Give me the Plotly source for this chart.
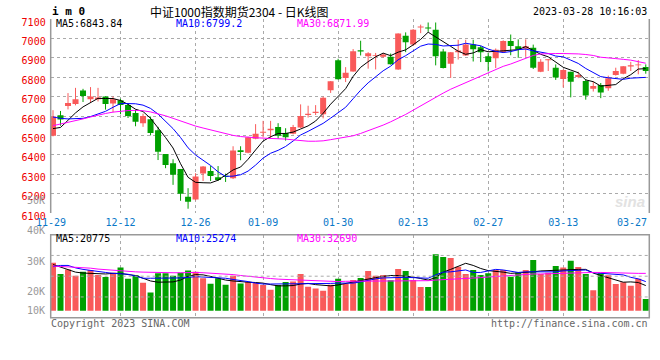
import plotly.graph_objects as go

# ---------------- data ----------------
dates = ["11-29", "11-30", "12-01", "12-02", "12-05", "12-06", "12-07", "12-08", "12-09", "12-12",
         "12-13", "12-14", "12-15", "12-16", "12-19", "12-20", "12-21", "12-22", "12-23", "12-26",
         "12-27", "12-28", "12-29", "12-30", "01-03", "01-04", "01-05", "01-06", "01-09", "01-10",
         "01-11", "01-12", "01-13", "01-16", "01-17", "01-18", "01-19", "01-20", "01-30", "01-31",
         "02-01", "02-02", "02-03", "02-06", "02-07", "02-08", "02-09", "02-10", "02-13", "02-14",
         "02-15", "02-16", "02-17", "02-20", "02-21", "02-22", "02-23", "02-24", "02-27", "02-28",
         "03-01", "03-02", "03-03", "03-06", "03-07", "03-08", "03-09", "03-10", "03-13", "03-14",
         "03-15", "03-16", "03-17", "03-20", "03-21", "03-22", "03-23", "03-24", "03-27", "03-28"]

tick_labels = ["12-12", "12-26", "01-09", "01-30", "02-13", "02-27", "03-13"]
first_label = "11-29"
edge_label = "03-27"

opens = [6498, 6604, 6651, 6662, 6732, 6686, 6686, 6701, 6664, 6681,
         6657, 6616, 6563, 6583, 6527, 6404, 6356, 6327, 6184, 6169,
         6304, 6316, 6284, 6289, 6279, 6423, 6410, 6483, 6514, 6526,
         6543, 6512, 6509, 6541, 6605, 6616, 6609, 6733, 6888, 6796,
         6830, 6939, 6908, 6910, 6906, 6905, 6840, 7014, 6969, 7056,
         7054, 7044, 6932, 6869, 6929, 6912, 6969, 6954, 6908, 6898,
         6930, 6986, 6959, 6947, 6952, 6828, 6888, 6849, 6791, 6828,
         6801, 6781, 6741, 6760, 6743, 6811, 6818, 6855, 6861, 6852]

closes = [6598, 6582, 6667, 6686, 6703, 6701, 6696, 6662, 6686, 6657,
          6600, 6570, 6600, 6512, 6416, 6348, 6297, 6199, 6158, 6288,
          6340, 6291, 6270, 6287, 6422, 6415, 6491, 6508, 6517, 6534,
          6498, 6491, 6543, 6600, 6612, 6622, 6694, 6779, 6789, 6823,
          6934, 6932, 6923, 6915, 6917, 6867, 7025, 6980, 7044, 7060,
          7051, 6908, 6847, 6929, 6937, 6969, 6944, 6929, 6878, 6942,
          6986, 6961, 6944, 6959, 6849, 6879, 6893, 6798, 6837, 6777,
          6811, 6706, 6755, 6721, 6794, 6832, 6857, 6862, 6866, 6832]

highs = [6630, 6626, 6718, 6745, 6740, 6749, 6745, 6701, 6701, 6689,
         6665, 6633, 6612, 6597, 6544, 6404, 6377, 6327, 6228, 6305,
         6342, 6342, 6342, 6303, 6444, 6444, 6493, 6558, 6575, 6575,
         6563, 6537, 6554, 6660, 6653, 6656, 6700, 6780, 6895, 6852,
         6945, 6988, 6929, 6925, 6925, 6922, 7026, 7031, 7048, 7071,
         7082, 7082, 6946, 6929, 6993, 6993, 6993, 6962, 6925, 6948,
         6990, 7020, 6995, 6995, 6968, 6893, 6893, 6866, 6840, 6828,
         6828, 6790, 6777, 6770, 6808, 6849, 6857, 6879, 6888, 6866]

lows = [6495, 6550, 6634, 6655, 6672, 6670, 6675, 6633, 6619, 6609,
        6590, 6547, 6544, 6500, 6373, 6331, 6245, 6163, 6122, 6165,
        6265, 6265, 6265, 6260, 6275, 6372, 6408, 6480, 6490, 6486,
        6483, 6473, 6505, 6538, 6592, 6605, 6588, 6719, 6788, 6775,
        6828, 6912, 6844, 6840, 6900, 6865, 6838, 6929, 6962, 7027,
        7034, 6861, 6845, 6796, 6891, 6910, 6881, 6878, 6830, 6847,
        6925, 6913, 6900, 6905, 6842, 6826, 6832, 6786, 6747, 6696,
        6795, 6684, 6726, 6692, 6730, 6808, 6815, 6832, 6815, 6818]

ma5 = [6535, 6541, 6578, 6616, 6647, 6668, 6691, 6690, 6690, 6680,
       6660, 6635, 6623, 6588, 6540, 6489, 6435, 6354, 6284, 6258,
       6256, 6255, 6269, 6295, 6322, 6337, 6377, 6425, 6471, 6493,
       6510, 6510, 6517, 6533, 6549, 6574, 6614, 6661, 6699, 6741,
       6804, 6851, 6880, 6905, 6924, 6911, 6929, 6941, 6967, 6995,
       7032, 7009, 6982, 6959, 6934, 6918, 6925, 6942, 6931, 6932,
       6936, 6939, 6942, 6958, 6940, 6918, 6905, 6876, 6851, 6837,
       6823, 6786, 6777, 6754, 6757, 6762, 6792, 6813, 6842, 6844]

ma10 = [6595, 6588, 6585, 6585, 6588, 6597, 6610, 6624, 6645, 6664,
        6664, 6663, 6656, 6639, 6610, 6575, 6535, 6489, 6436, 6399,
        6373, 6345, 6312, 6289, 6290, 6297, 6316, 6347, 6383, 6408,
        6423, 6443, 6471, 6502, 6521, 6542, 6562, 6589, 6616, 6645,
        6689, 6733, 6771, 6802, 6833, 6857, 6890, 6911, 6936, 6960,
        6971, 6969, 6961, 6963, 6965, 6975, 6967, 6962, 6945, 6933,
        6927, 6932, 6942, 6945, 6936, 6927, 6922, 6909, 6905, 6888,
        6871, 6845, 6826, 6803, 6797, 6792, 6789, 6795, 6798, 6799]

ma30 = [6550, 6558, 6566, 6575, 6585, 6595, 6605, 6613, 6620, 6625,
        6628, 6629, 6627, 6621, 6612, 6601, 6588, 6574, 6560, 6548,
        6538, 6528, 6518, 6508, 6500, 6494, 6490, 6488, 6486, 6485,
        6484, 6481, 6477, 6473, 6470, 6470, 6472, 6478, 6485, 6492,
        6498, 6510, 6523, 6537, 6553, 6570, 6588, 6608, 6630, 6652,
        6675, 6700, 6718, 6738, 6755, 6770, 6786, 6802, 6820, 6838,
        6856, 6868, 6882, 6897, 6912, 6920, 6922, 6922, 6922, 6922,
        6920, 6917, 6912, 6903, 6898, 6896, 6892, 6888, 6880, 6872]

volume = [28300, 24600, 26100, 24000, 25300, 25900, 24300, 23600, 25000, 26700,
          23000, 24300, 21700, 18500, 24800, 24800, 24000, 25000, 25700, 25300,
          23200, 21400, 23200, 21100, 24000, 21500, 22000, 21600, 21000, 19400,
          21000, 22000, 22100, 24600, 20400, 19800, 19100, 21100, 23000, 21300,
          22600, 23300, 25600, 24000, 24300, 22500, 26200, 25600, 22600, 20300,
          20300, 31100, 30200, 29800, 27000, 24600, 25900, 24300, 24800, 25900,
          25900, 23700, 25100, 25900, 29200, 24600, 25000, 27200, 26700, 28900,
          26900, 24600, 19300, 24800, 24200, 21300, 21900, 20700, 23000, 16400]

vol_ma5 = [27700, 26900, 26100, 25200, 24900, 24800, 24600, 24600, 24800, 24800,
           24400, 24100, 23200, 22300, 21900, 21900, 22000, 22600, 23800, 24400,
           24300, 23800, 23100, 22600, 22300, 22000, 21900, 21800, 21600, 21100,
           20700, 20700, 20800, 21300, 21500, 21100, 20800, 20700, 21000, 21500,
           22100, 22600, 23000, 23400, 23800, 24100, 24100, 23900, 23600, 23100,
           22600, 23400, 25200, 26100, 27200, 28100, 27400, 26400, 25700, 25500,
           25200, 24800, 24900, 25100, 25300, 25600, 25700, 26000, 26100, 26100,
           26100, 26100, 24900, 24100, 23300, 22500, 21900, 22000, 21800, 20800]

vol_ma10 = [27000, 27400, 27400, 26600, 26100, 25700, 25300, 25100, 24800, 24700,
            24500, 23900, 23200, 23200, 23200, 23200, 23200, 23300, 23500, 23700,
            23600, 23500, 23400, 23200, 22800, 22500, 22100, 21600, 21300, 21300,
            21300, 21300, 21400, 21500, 21500, 21400, 21500, 21500, 21600, 21600,
            21600, 22000, 22600, 23000, 23300, 23400, 23500, 23500, 23400, 23300,
            23200, 24300, 25200, 25300, 25700, 25900, 25100, 25100, 25600, 26100,
            25900, 25400, 25100, 25300, 25300, 25300, 25300, 25300, 25600, 25700,
            25900, 25900, 25000, 24800, 24600, 24400, 24300, 23500, 23000, 22100]

vol_ma30 = [27200, 27100, 27000, 26900, 26700, 26500, 26200, 26000, 25700, 25600,
            25400, 25300, 25200, 25100, 25000, 25000, 25000, 25000, 25100, 25100,
            25000, 24900, 24800, 24700, 24400, 24100, 23800, 23500, 23300, 23100,
            22900, 22800, 22600, 22500, 22300, 22200, 22100, 22100, 22100, 22200,
            22200, 22300, 22300, 22300, 22400, 22400, 22400, 22400, 22400, 22400,
            22400, 22600, 22700, 22900, 23000, 23000, 23200, 23400, 23600, 23800,
            24000, 24200, 24400, 24500, 24600, 24600, 24700, 24800, 24900, 24900,
            25000, 25100, 25100, 25100, 25000, 24900, 24800, 24800, 24800, 24800]

price_ticks = [6100, 6200, 6300, 6400, 6500, 6600, 6700, 6800, 6900, 7000, 7100]
vol_tick_values = [50000, 40000, 30000, 20000, 10000]
vol_tick_labels = ["50K", "40K", "30K", "20K", "10K"]

title_text = "中证1000指数期货2304 - 日K线图"
symbol_text = "i m 0"
time_text = "2023-03-28 10:16:03"
legend_price = ["MA5:6843.84", "MA10:6799.2", "MA30:6871.99"]
legend_vol = ["MA5:20775", "MA10:25274", "MA30:32690"]
copyright_text = "Copyright 2023 SINA.COM"
url_text = "http://finance.sina.com.cn"

# ---------------- layout constants ----------------
W, H = 660, 360


def fx(p):
    return p / W


def fy(p):
    return 1 - p / H


RED = "#F95A5A"
GREEN = "#00A000"
MA_COLORS = ["#000000", "#0000FF", "#FF00FF"]
GRID = "#AAAAAA"
BORDER = "#999999"
MONO = "DejaVu Sans Mono"
XLAB = "#0A78C8"

X_DOM = [fx(50.7), fx(649.3)]
MAIN_DOM = [fy(213), fy(19)]
VOL_DOM = [fy(317.7), fy(234.7)]
X_RANGE = [-0.307, 79.47]
PRICE_RANGE = [6100, 7100]
VOL_RANGE = [10262, 37475]
VOL_BASE = 12557


def vol_to_paper(v):
    frac = (v - VOL_RANGE[0]) / (VOL_RANGE[1] - VOL_RANGE[0])
    return VOL_DOM[0] + frac * (VOL_DOM[1] - VOL_DOM[0])


idx = list(range(len(dates)))
up = [c >= o for o, c in zip(opens, closes)]
colors = [RED if u else GREEN for u in up]

fig = go.Figure()

# wicks
for flag, col in ((True, RED), (False, GREEN)):
    wx, wy = [], []
    for i in idx:
        if up[i] == flag:
            wx += [i, i, None]
            wy += [lows[i], highs[i], None]
    fig.add_trace(go.Scatter(x=wx, y=wy, mode="lines", line=dict(color=col, width=1),
                             xaxis="x", yaxis="y", hoverinfo="skip"))

# bodies
fig.add_trace(go.Bar(
    x=idx,
    y=[max(abs(c - o), 5) for o, c in zip(opens, closes)],
    base=[min(o, c) for o, c in zip(opens, closes)],
    width=0.8, marker=dict(color=colors, line=dict(width=0)),
    xaxis="x", yaxis="y"))

for series, col in zip((ma5, ma10, ma30), MA_COLORS):
    fig.add_trace(go.Scatter(x=idx, y=series, mode="lines", line=dict(color=col, width=1),
                             xaxis="x", yaxis="y", hoverinfo="skip"))

# volume
fig.add_trace(go.Bar(
    x=idx, y=[v - VOL_BASE for v in volume], base=VOL_BASE,
    width=0.8, marker=dict(color=colors, line=dict(width=0)),
    xaxis="x2", yaxis="y2"))

for series, col in zip((vol_ma5, vol_ma10, vol_ma30), MA_COLORS):
    fig.add_trace(go.Scatter(x=idx, y=series, mode="lines", line=dict(color=col, width=1),
                             xaxis="x2", yaxis="y2", hoverinfo="skip"))

tickvals = [dates.index(t) for t in tick_labels]

common_x = dict(domain=X_DOM, range=X_RANGE, tickvals=tickvals, showgrid=True,
                gridcolor=GRID, griddash="dot", gridwidth=1, zeroline=False,
                showline=False, ticks="", fixedrange=True, automargin=False)

fig.update_layout(
    width=W, height=H, autosize=False,
    margin=dict(l=0, r=0, t=0, b=0, pad=0),
    paper_bgcolor="white", plot_bgcolor="white",
    showlegend=False,
    xaxis=dict(**common_x, anchor="y", ticktext=tick_labels, ticklabelstandoff=2,
               ticklabeloverflow="allow",
               tickfont=dict(family=MONO, size=10, color=XLAB)),
    yaxis=dict(domain=MAIN_DOM, range=PRICE_RANGE, tickvals=price_ticks,
               showgrid=True, gridcolor=GRID, griddash="dot", gridwidth=1,
               zeroline=False, showline=False, ticks="", automargin=False,
               tickfont=dict(family=MONO, size=10, color="#EE0000"),
               ticklabelshift=3, ticklabelstandoff=4, anchor="x"),
    xaxis2=dict(**common_x, anchor="y2", showticklabels=False),
    yaxis2=dict(domain=VOL_DOM, range=VOL_RANGE, showgrid=False, zeroline=False,
                showticklabels=False, ticks="", anchor="x2", automargin=False),
)

shapes = []
# main panel: solid left / right frame, top & bottom are the dotted grid lines
for x in (0, 1):
    shapes.append(dict(type="line", xref="x domain", yref="y domain", x0=x, x1=x,
                       y0=0, y1=1, line=dict(color=BORDER, width=1.5)))
# volume panel: full solid frame
shapes.append(dict(type="rect", xref="x2 domain", yref="y2 domain",
                   x0=0, x1=1, y0=0, y1=1, line=dict(color=BORDER, width=1.5)))
for q in (0.25, 0.5, 0.75):
    shapes.append(dict(type="line", xref="x2 domain", yref="y2 domain", x0=0, x1=1,
                       y0=q, y1=q, line=dict(color=GRID, width=1, dash="dot")))
fig.update_layout(shapes=shapes)

ann = []


def add_text(text, x, y, xanchor="left", color="#000000", size=10, family=MONO, **kw):
    ann.append(dict(text=text, x=x, y=y, xref=kw.pop("xref", "paper"), yref=kw.pop("yref", "paper"),
                    xanchor=xanchor, yanchor=kw.pop("yanchor", "middle"), showarrow=False,
                    font=dict(family=family, size=size, color=color), **kw))


add_text("<b>" + symbol_text + "</b>", fx(50), fy(11.5), size=11)
add_text(title_text, fx(239), fy(11), xanchor="center", size=12, family="Noto Sans CJK SC")
add_text(time_text, fx(649), fy(11), xanchor="right")
for t, x0, col in zip(legend_price, (54, 174, 295), MA_COLORS):
    add_text(t, fx(x0), fy(23.7), color=col)
for t, x0, col in zip(legend_vol, (54, 174, 295), MA_COLORS):
    add_text(t, fx(x0), fy(238.5), color=col)
add_text(copyright_text, fx(49), fy(323), color="#666666")
add_text(url_text, fx(650), fy(323), xanchor="right", color="#666666")
add_text(first_label, 0, fy(222), xanchor="center", color=XLAB, xref="x domain")
add_text(edge_label, fx(649), fy(222), xanchor="right", color=XLAB)
for v, t in zip(vol_tick_values, vol_tick_labels):
    shift = 8 if v == min(vol_tick_values) else -4
    add_text(t, fx(47), vol_to_paper(v), xanchor="right", color="#999999", yshift=shift)
add_text("<b><i>sina</i></b>", fx(630), fy(201), xanchor="center", color="#E2E2E2",
         size=15, family="Arial")
fig.update_layout(annotations=ann)

fig.write_html(
    "out.html",
    config={"displayModeBar": False, "staticPlot": True},
    post_script="document.body.style.margin='0';document.body.style.overflow='hidden';",
)
